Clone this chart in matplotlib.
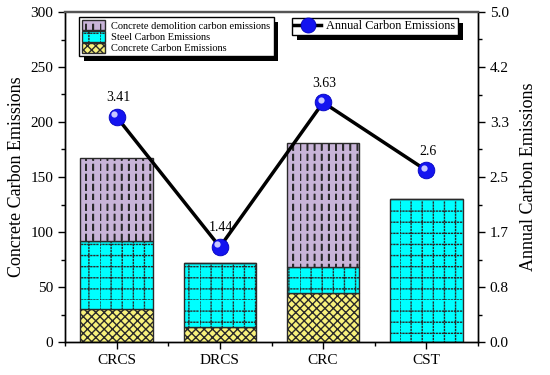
import numpy as np
import matplotlib
matplotlib.use('Agg')
import matplotlib.pyplot as plt
import matplotlib.hatch as mhatch
import matplotlib.transforms as mtransforms
import matplotlib.patheffects as pe
from matplotlib.path import Path
from matplotlib.ticker import FixedLocator, AutoMinorLocator

# ---------------- data ----------------
categories = ['CRCS', 'DRCS', 'CRC', 'CST']
concrete = [30, 14, 45, 0]
steel = [62, 58, 23, 130]
demolition = [75, 0, 113, 0]
annual = [3.41, 1.44, 3.63, 2.6]
annual_labels = ['3.41', '1.44', '3.63', '2.6']
left_ticks = [0, 50, 100, 150, 200, 250, 300]
right_ticks = [0, 5 / 6, 10 / 6, 2.5, 20 / 6, 25 / 6, 5.0]
right_ticklabels = ['0.0', '0.8', '1.7', '2.5', '3.3', '4.2', '5.0']


# ---------------- custom hatches ----------------
class DashedVerticalHatch(mhatch.HatchPatternBase):
    """'|' -> columns of short vertical dashes"""
    def __init__(self, hatch, density):
        self.n_cols = hatch.count('|') * 7
        self.n_dash = 10
        self.dash = 0.055
        self.w = 0.006
        self.num_vertices = self.n_cols * self.n_dash * 4

    def set_vertices_and_codes(self, vertices, codes):
        xs = np.arange(self.n_cols) / self.n_cols
        ys = np.arange(self.n_dash) / self.n_dash
        X, Y = np.meshgrid(xs, ys)
        X = X.ravel(); Y = Y.ravel()
        k = X.size
        for j, off in enumerate((0.0, self.w)):
            s = 2 * k * j
            vertices[s:s + 2 * k:2, 0] = X + off
            vertices[s:s + 2 * k:2, 1] = Y
            vertices[s + 1:s + 2 * k:2, 0] = X + off
            vertices[s + 1:s + 2 * k:2, 1] = Y + self.dash
        codes[0::2] = Path.MOVETO
        codes[1::2] = Path.LINETO


class DottedGridHatch(mhatch.HatchPatternBase):
    """'+' -> dotted grid"""
    def __init__(self, hatch, density):
        self.n = hatch.count('+') * 9
        self.m = 33
        self.num_vertices = self.n * self.m * 4

    def set_vertices_and_codes(self, vertices, codes):
        lines = np.arange(self.n) / self.n
        dots = np.arange(self.m) / self.m
        L, D = np.meshgrid(lines, dots)
        L = L.ravel(); D = D.ravel()
        d = 0.009
        k = L.size
        vertices[0:2 * k:2, 0] = L
        vertices[0:2 * k:2, 1] = D
        vertices[1:2 * k:2, 0] = L
        vertices[1:2 * k:2, 1] = D + d
        vertices[2 * k::2, 0] = D
        vertices[2 * k::2, 1] = L
        vertices[2 * k + 1::2, 0] = D + d
        vertices[2 * k + 1::2, 1] = L
        codes[0::2] = Path.MOVETO
        codes[1::2] = Path.LINETO


mhatch._hatch_types = [DottedGridHatch, DashedVerticalHatch,
                       mhatch.NorthEastHatch, mhatch.SouthEastHatch,
                       mhatch.SmallCircles, mhatch.LargeCircles,
                       mhatch.SmallFilledCircles, mhatch.Stars]

plt.rcParams['font.family'] = ['Liberation Serif', 'DejaVu Serif']
plt.rcParams['hatch.linewidth'] = 1.0
plt.rcParams['hatch.color'] = 'black'

W, H = 550, 375
fig = plt.figure(figsize=(W / 100, H / 100), dpi=100)
ax = fig.add_axes([65 / W, 1 - 342 / H, (478 - 65) / W, (342 - 12) / H])
ax2 = ax.twinx()

x = np.arange(len(categories))
bw = 0.7
edge = '#2a2a2a'
c_yellow = '#F8F27C'
c_cyan = '#00FFFF'
c_purple = '#C8B4D8'

b1 = ax.bar(x, concrete, bw, color=c_yellow, edgecolor=edge, hatch='xxxx',
            linewidth=1.0, label='Concrete Carbon Emissions')
b2 = ax.bar(x, steel, bw, bottom=concrete, color=c_cyan, edgecolor=edge,
            hatch='+', linewidth=1.0, label='Steel Carbon Emissions')
bot3 = np.array(concrete) + np.array(steel)
b3 = ax.bar(x, demolition, bw, bottom=bot3, color=c_purple, edgecolor=edge,
            hatch='||', linewidth=1.0,
            label='Concrete demolition carbon emissions')

ax.set_xlim(-0.5, 3.5)
ax.set_ylim(0, 300)
ax.set_yticks(left_ticks)
ax.yaxis.set_minor_locator(AutoMinorLocator(2))
ax.set_xticks(x)
ax.set_xticklabels(categories, fontsize=11)
ax.xaxis.set_minor_locator(FixedLocator([-0.5, 0.5, 1.5, 2.5, 3.5]))
ax.tick_params(axis='both', which='major', direction='out', length=5,
               width=1, labelsize=11)
ax.tick_params(axis='both', which='minor', direction='out', length=3, width=1)
ax.tick_params(axis='x', which='major', pad=4)
ax.set_ylabel('Concrete Carbon Emissions', fontsize=13, labelpad=4)

# line on right axis
ax2.set_ylim(0, 5.0)
ax2.set_yticks(right_ticks)
ax2.set_yticklabels(right_ticklabels)
ax2.yaxis.set_minor_locator(FixedLocator(
    [(right_ticks[i] + right_ticks[i + 1]) / 2 for i in range(len(right_ticks) - 1)]))
ax2.tick_params(axis='y', which='major', direction='out', length=5, width=1,
                labelsize=11)
ax2.tick_params(axis='y', which='minor', direction='out', length=3, width=1)
ax2.set_ylabel('Annual Carbon Emissions', fontsize=13, labelpad=8)

ln, = ax2.plot(x, annual, color='black', lw=2.5, marker='o', markersize=12,
               markerfacecolor='#1414F0', markeredgecolor='#0000C0',
               markeredgewidth=0.6, label='Annual Carbon Emissions', zorder=3)
hl_off = mtransforms.ScaledTranslation(-2.5 / 100, 2.5 / 100, fig.dpi_scale_trans)
ax2.plot(x, annual, ls='none', marker='o', markersize=4.5,
         markerfacecolor='#C8C8FF', markeredgecolor='none',
         transform=ax2.transData + hl_off, zorder=4)

for xi, yi, lab in zip(x, annual, annual_labels):
    ax2.annotate(lab, (xi, yi), xytext=(1, 9), textcoords='offset points',
                 ha='center', va='bottom', fontsize=10)

for a in (ax, ax2):
    for s in ('left', 'right', 'bottom'):
        a.spines[s].set_color('black')
        a.spines[s].set_linewidth(1.0)
    a.spines['top'].set_color('#555555')
    a.spines['top'].set_linewidth(1.6)

shadow_fx = [pe.SimplePatchShadow(offset=(3.5, -3.5), shadow_rgbFace='black',
                                  alpha=1.0), pe.Normal()]
leg1 = ax2.legend([b3, b2, b1],
                  ['Concrete demolition carbon emissions',
                   'Steel Carbon Emissions', 'Concrete Carbon Emissions'],
                  loc='upper left',
                  bbox_to_anchor=((79 - 65) / 413, (342 - 17) / 330),
                  borderaxespad=0, fontsize=7.5, frameon=True, fancybox=False,
                  shadow=False, framealpha=1, edgecolor='black',
                  handlelength=2.2, handleheight=1.15, labelspacing=0.05,
                  handletextpad=0.6, borderpad=0.3)
leg1.get_frame().set_linewidth(1.0)
leg1.get_frame().set_path_effects(shadow_fx)
ax2.add_artist(leg1)

leg2 = ax2.legend([ln], ['Annual Carbon Emissions'], loc='upper left',
                  bbox_to_anchor=((292 - 65) / 413, (342 - 18) / 330),
                  borderaxespad=0, fontsize=8.8, frameon=True, fancybox=False,
                  shadow=False, framealpha=1, edgecolor='black',
                  handlelength=2.2, handletextpad=0.4, borderpad=0.2,
                  markerscale=0.9)
leg2.get_frame().set_linewidth(1.0)
leg2.get_frame().set_path_effects(shadow_fx)

fig.savefig('out.png', dpi=100)
